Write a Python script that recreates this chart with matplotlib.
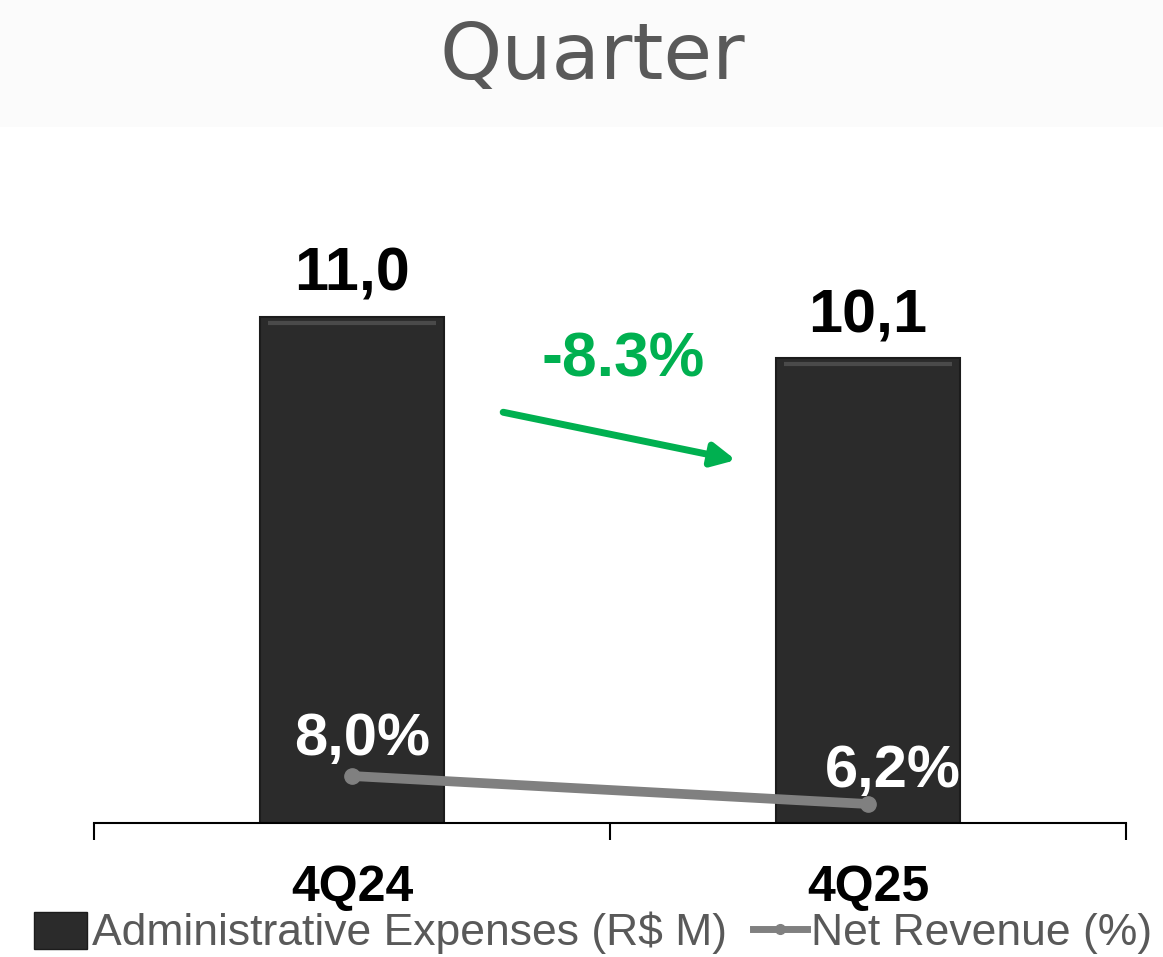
import matplotlib
matplotlib.use('Agg')
import matplotlib.pyplot as plt
from matplotlib.lines import Line2D
from matplotlib.patches import Patch, Rectangle

# data
categories = ['4Q24', '4Q25']
admin_expenses = [11.0, 10.1]        # R$ M
net_revenue_pct = [8.0, 6.2]         # %
expense_labels = ['11,0', '10,1']
pct_labels = ['8,0%', '6,2%']
change_label = '-8.3%'

BAR_COLOR = '#2b2b2b'
LINE_COLOR = '#808080'
GREEN = '#00b050'
TEXT_GRAY = '#595959'

plt.rcParams['font.family'] = ['Liberation Sans', 'DejaVu Sans']

fig = plt.figure(figsize=(11.63, 9.57), dpi=100, facecolor='white')
# light band behind the title
fig.patches.append(Rectangle((0, 0.867), 1, 0.133, transform=fig.transFigure,
                             facecolor='#fbfbfb', edgecolor='none', zorder=-1))

ax = fig.add_axes([0.0808, 0.140, 0.8874, 0.721])
ax.set_facecolor('none')
x = list(range(len(categories)))

bars = ax.bar(x, admin_expenses, width=0.355, color=BAR_COLOR,
              edgecolor='#1c1c1c', linewidth=1.5, zorder=2)
# thin highlight along the top of each bar (bevel look)
for b in bars:
    ax.plot([b.get_x() + 0.015, b.get_x() + b.get_width() - 0.015],
            [b.get_height() - 0.13] * 2, color='#4a4a4a', lw=3, zorder=3,
            solid_capstyle='butt')

for xi, v, lab in zip(x, admin_expenses, expense_labels):
    ax.annotate(lab, (xi, v), xytext=(0, 19), textcoords='offset points',
                ha='center', va='baseline', fontsize=44, fontweight='bold',
                color='black')

ax.set_xlim(-0.5, 1.5)
ax.set_ylim(0, 15.0)
for s in ['top', 'right', 'left']:
    ax.spines[s].set_visible(False)
ax.spines['bottom'].set_linewidth(1.5)
ax.set_yticks([])
ax.set_xticks(x)
ax.set_xticklabels(categories, fontsize=36, fontweight='bold')
ax.tick_params(axis='x', which='major', length=0, pad=30)
ax.set_xticks([-0.5, 0.5, 1.5], minor=True)
ax.tick_params(axis='x', which='minor', length=12, width=1.5, direction='out')

# change arrow
ax.annotate('', xy=(0.744, 7.89), xytext=(0.293, 8.93),
            arrowprops=dict(arrowstyle='-|>,head_length=1.4,head_width=0.7',
                            color=GREEN, lw=5, shrinkA=0, shrinkB=0))
ax.text(0.525, 10.07, change_label, ha='center', va='center', fontsize=45,
        fontweight='bold', color=GREEN)

# secondary axis for % of net revenue
ax2 = ax.twinx()
ax2.set_ylim(4.98, 49.3)
ax2.axis('off')
ax2.plot(x, net_revenue_pct, color=LINE_COLOR, lw=7, marker='o', ms=11,
         zorder=4, solid_capstyle='round')
offsets = [(7, 15), (18, 12)]
for xi, v, lab, off in zip(x, net_revenue_pct, pct_labels, offsets):
    ax2.annotate(lab, (xi, v), xytext=off, textcoords='offset points',
                 ha='center', va='baseline', fontsize=43, fontweight='bold',
                 color='white')

fig.text(0.509, 0.940, 'Quarter', ha='center', va='center', fontsize=57,
         color=TEXT_GRAY, family='DejaVu Sans')

handles = [Patch(facecolor=BAR_COLOR, edgecolor='#1c1c1c'),
           Line2D([0], [0], color=LINE_COLOR, lw=5, marker='o', ms=7)]
fig.legend(handles, ['Administrative Expenses (R$ M)', 'Net Revenue (%)'],
           loc='center', bbox_to_anchor=(0.510, 0.025), ncol=2, frameon=False,
           fontsize=32, labelcolor=TEXT_GRAY, handlelength=1.2,
           handleheight=0.9, handletextpad=0.1, columnspacing=0.6,
           borderpad=0)

fig.savefig('out.png', dpi=100, facecolor=fig.get_facecolor())
